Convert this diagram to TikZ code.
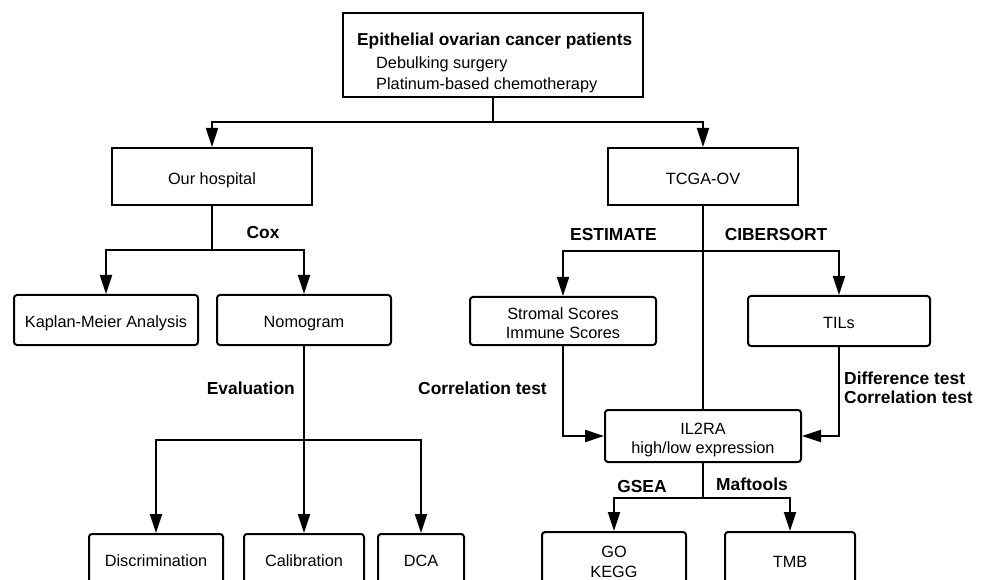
\documentclass[tikz,border=0pt]{standalone}
\usepackage{fontspec}
\setmainfont{Liberation Sans}
\usetikzlibrary{arrows.meta}
\newcommand\bt[1]{\raisebox{-4pt}[\height][\depth]{\begin{tabular}{@{}c@{}}#1\end{tabular}}}
\tikzset{
  base/.style={font=\fontsize{16.3}{19.5}\selectfont, inner sep=0pt},
  sqbox/.style={base, draw, line width=2pt},
  rbox/.style={sqbox, rounded corners=3pt},
  lbl/.style={base, font=\fontsize{17.4}{19}\selectfont\bfseries, align=left},
  conn/.style={line width=2pt},
  arr/.style={conn, -{Triangle[length=19pt,width=12pt]}},
}
\begin{document}
\begin{tikzpicture}[x=1pt,y=-1pt]
\useasboundingbox (0,0) rectangle (986,580);
\clip (0,0) rectangle (986,580);
% boxes
\node[sqbox, minimum width=300pt, minimum height=84pt] (top) at (493,55) {};
\node[base, font=\fontsize{16.3}{21}\selectfont, align=left, anchor=north west] (toptext) at (357,33)
  {{\fontsize{17.3}{21}\selectfont\bfseries Epithelial ovarian cancer patients}\\[1.5pt]
   \hspace{19pt}Debulking surgery\\
   \hspace{19pt}Platinum-based chemotherapy};
\node[sqbox, minimum width=200pt, minimum height=57pt] (hosp) at (212,176.5) {\bt{Our hospital}};
\node[sqbox, minimum width=190pt, minimum height=57pt] (tcga) at (703,176.5) {\bt{TCGA-OV}};
\node[rbox, minimum width=184pt, minimum height=50pt] (km) at (106,320) {\bt{Kaplan-Meier Analysis}};
\node[rbox, minimum width=174pt, minimum height=50pt] (nomo) at (304,320) {\bt{Nomogram}};
\node[rbox, minimum width=186pt, minimum height=48pt] (strom) at (563,321) {\bt{Stromal Scores\\Immune Scores}};
\node[rbox, minimum width=182pt, minimum height=50pt] (tils) at (839,321) {\bt{TILs}};
\node[rbox, minimum width=196pt, minimum height=52pt] (il2ra) at (703,436) {\bt{IL2RA\\high/low expression}};
\node[rbox, minimum width=134pt, minimum height=50pt] (disc) at (156,559) {\bt{Discrimination}};
\node[rbox, minimum width=120pt, minimum height=50pt] (cal) at (304,559) {\bt{Calibration}};
\node[rbox, minimum width=86pt, minimum height=50pt] (dca) at (421,559) {\bt{DCA}};
\node[rbox, minimum width=144pt, minimum height=55pt] (go) at (614,559.5) {\bt{GO\\KEGG}};
\node[rbox, minimum width=130pt, minimum height=55pt] (tmb) at (790,559.5) {\bt{TMB}};
% junctions
\coordinate (j0) at (493,122);
\coordinate (j1) at (212,250);
\coordinate (j2) at (304,440);
\coordinate (j3) at (703,251);
\coordinate (j4) at (703,498);
% connectors
\draw[conn] (top.south) -- (j0);
\draw[arr] (j0) -| (hosp.north);
\draw[arr] (j0) -| (tcga.north);
\draw[conn] (hosp.south) -- (j1);
\draw[arr] (j1) -| (km.north);
\draw[arr] (j1) -| (nomo.north);
\draw[conn] (nomo.south) -- (j2);
\draw[arr] (j2) -| (disc.north);
\draw[arr] (j2) -- (cal.north);
\draw[arr] (j2) -| (dca.north);
\draw[conn] (tcga.south) -- (il2ra.north);
\draw[arr] (j3) -| (strom.north);
\draw[arr] (j3) -| (tils.north);
\draw[arr] (strom.south) |- (il2ra.west);
\draw[arr] (tils.south) |- (il2ra.east);
\draw[conn] (il2ra.south) -- (j4);
\draw[arr] (j4) -| (go.north);
\draw[arr] (j4) -| (tmb.north);
% labels
\node[lbl] (cox) at (263,233) {Cox};
\node[lbl, anchor=east] (eval) at (295,388) {Evaluation};
\node[lbl] (estimate) at (613.5,235) {ESTIMATE};
\node[lbl] (cibersort) at (776,235) {CIBERSORT};
\node[lbl] (corr) at (482.5,388) {Correlation test};
\node[lbl, anchor=west] (diff) at (844,387.5) {Difference test\\Correlation test};
\node[lbl] (gsea) at (642,487) {GSEA};
\node[lbl] (maf) at (752,484) {Maftools};
\end{tikzpicture}
\end{document}
